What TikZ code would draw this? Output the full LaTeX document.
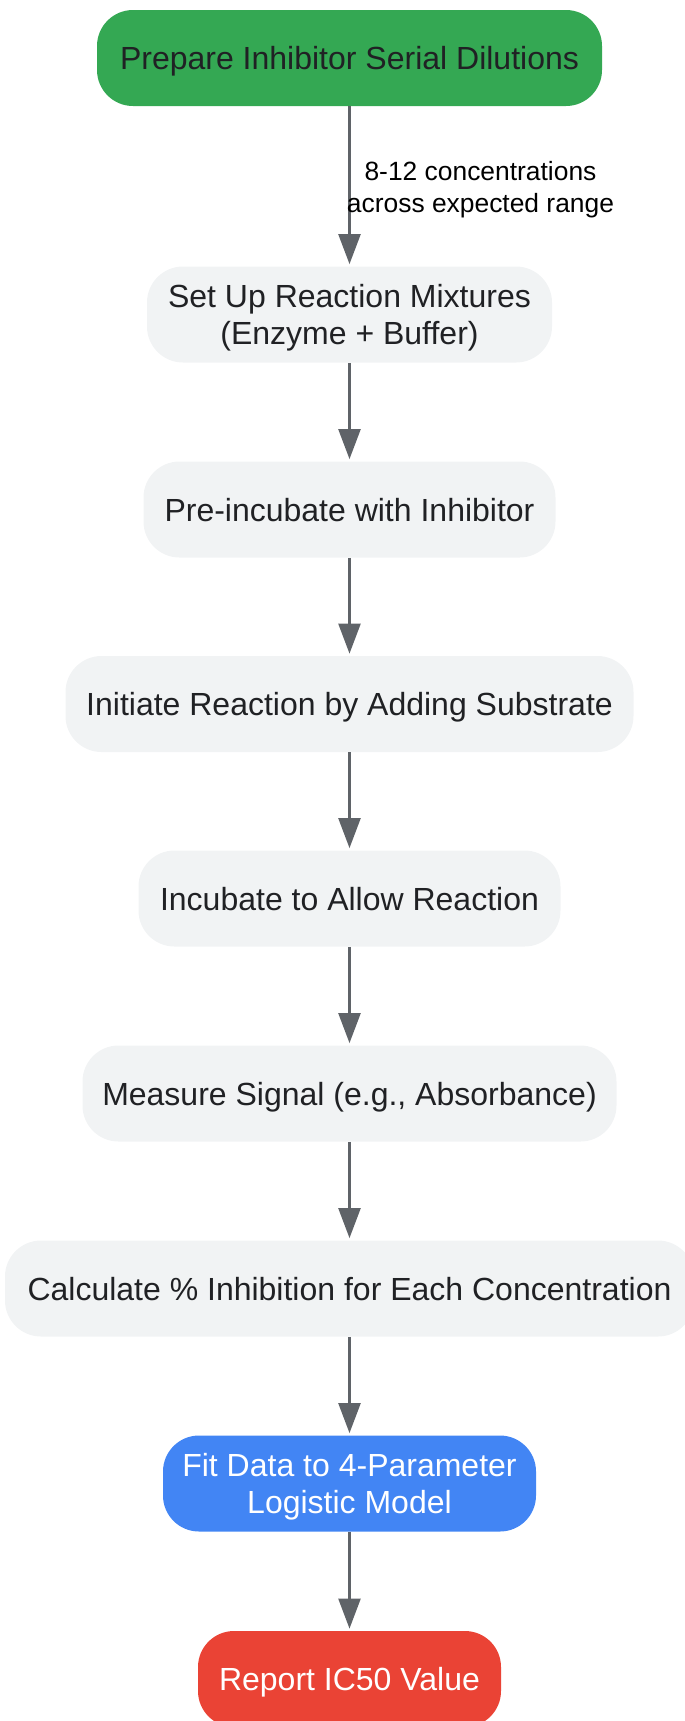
\documentclass[tikz,border=0pt]{standalone}
\usepackage{fontspec}
\setmainfont{Liberation Sans}
\usetikzlibrary{arrows.meta}
\definecolor{gfill}{HTML}{F1F3F4}
\definecolor{gtext}{HTML}{202124}
\definecolor{greenc}{HTML}{34A853}
\definecolor{bluec}{HTML}{4285F4}
\definecolor{redc}{HTML}{EA4335}
\definecolor{arrc}{HTML}{5F6368}
\begin{document}
\begin{tikzpicture}[x=0.5pt,y=-0.5pt,
  box/.style={rectangle, rounded corners=18pt, inner sep=0pt, minimum height=48pt, align=center,
    font=\fontsize{16pt}{18.5pt}\selectfont, text=gtext,
    execute at begin node={\rule[-3.5pt]{0pt}{18.6pt}},
    execute at end node={\rule[-3.5pt]{0pt}{3.5pt}}},
  twoline/.style={font=\fontsize{16pt}{18.7pt}\selectfont,
    execute at begin node={\rule[-3.5pt]{0pt}{37.1pt}}},
  graybox/.style={box, fill=gfill},
  greenbox/.style={box, fill=greenc},
  bluebox/.style={box, fill=bluec, text=white},
  redbox/.style={box, fill=redc, text=white},
  arr/.style={draw=arrc, line width=1.2pt, shorten >=1pt, -{Triangle[length=15pt,width=11pt]}},
  lbl/.style={align=center, font=\fontsize{13.2pt}{15.85pt}\selectfont, text=black, inner sep=0pt},
]
\useasboundingbox (0,0) rectangle (685,1721);
\clip (0,0) rectangle (685,1721);
\node[greenbox, minimum width=252.5pt] (n1) at (349.5,58) {Prepare Inhibitor Serial Dilutions};
\node[graybox, twoline, minimum width=202.5pt] (n2) at (349.5,314.5) {Set Up Reaction Mixtures\\(Enzyme + Buffer)};
\node[graybox, minimum width=206pt] (n3) at (349.5,509.5) {Pre-incubate with Inhibitor};
\node[graybox, minimum width=284pt] (n4) at (349.5,704) {Initiate Reaction by Adding Substrate};
\node[graybox, minimum width=211pt] (n5) at (349.5,898.5) {Incubate to Allow Reaction};
\node[graybox, minimum width=267pt] (n6) at (349.5,1093.5) {Measure Signal (e.g., Absorbance)};
\node[graybox, minimum width=344.5pt] (n7) at (349.5,1288.5) {Calculate \% Inhibition for Each Concentration};
\node[bluebox, twoline, minimum width=186.5pt] (n8) at (349.5,1483.5) {Fit Data to 4-Parameter\\Logistic Model};
\node[redbox, minimum width=151.5pt] (n9) at (349.5,1679) {Report IC50 Value};
\draw[arr] (n1) -- (n2);
\node[lbl] (l1) at (480.5,189.5) {8-12 concentrations\\across expected range};
\draw[arr] (n2) -- (n3);
\draw[arr] (n3) -- (n4);
\draw[arr] (n4) -- (n5);
\draw[arr] (n5) -- (n6);
\draw[arr] (n6) -- (n7);
\draw[arr] (n7) -- (n8);
\draw[arr] (n8) -- (n9);
\end{tikzpicture}
\end{document}
